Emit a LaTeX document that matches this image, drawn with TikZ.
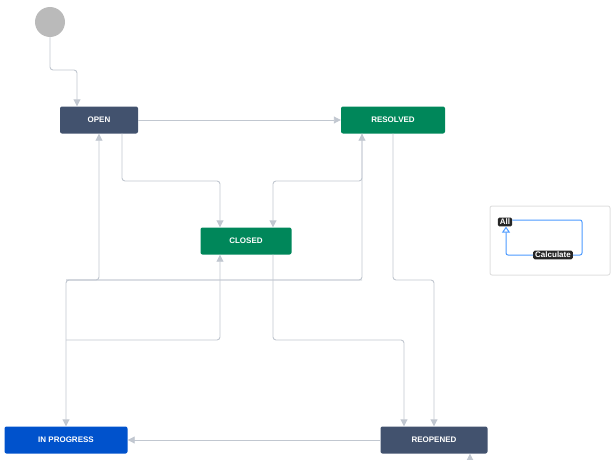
\documentclass[tikz,border=0pt]{standalone}
\usepackage{fontspec}
\setmainfont{Liberation Sans}
\usetikzlibrary{arrows.meta}
\definecolor{slate}{HTML}{42526E}
\definecolor{jgreen}{HTML}{00875A}
\definecolor{jblue}{HTML}{0052CC}
\definecolor{edge}{HTML}{C1C7D0}
\definecolor{lblue}{HTML}{4C9AFF}
\tikzset{
	state/.style={rounded corners=2pt, text=white, font=\fontsize{8}{9}\selectfont\bfseries, inner sep=0pt},
	flow/.style={draw=edge, line width=.9pt, rounded corners=3pt, -{Triangle[length=7pt,width=7pt]}},
	tag/.style={fill=black!85, text=white, rounded corners=1.5pt, font=\fontsize{8}{9}\selectfont\bfseries, inner xsep=2pt, inner ysep=1.5pt},
}
\begin{document}
\begin{tikzpicture}[x=1pt,y=-1pt]
	\useasboundingbox (0,0) rectangle (616,460);
	\fill [black!27] (50,22) circle (15) coordinate (start);
	\node [state, fill=slate, minimum width=78pt, minimum height=27pt] (open) at (99,120) {OPEN};
	\node [state, fill=jgreen, minimum width=104pt, minimum height=27pt] (resolved) at (393,120) {RESOLVED};
	\node [state, fill=jgreen, minimum width=91pt, minimum height=27pt] (closed) at (246,241) {CLOSED};
	\node [state, fill=jblue, minimum width=123pt, minimum height=27pt] (inprogress) at (66,440) {IN PROGRESS};
	\node [state, fill=slate, minimum width=107pt, minimum height=27pt] (reopened) at (434,440) {REOPENED};
	% transitions
	\draw [flow] (50,37) -- (50,70) -- (77,70) -- (open.north -| 77,0);
	\draw [flow] (open) -- (resolved);
	\draw [flow] (open.south -| 122,0) -- (122,181) -- (220,181) -- (closed.north -| 220,0);
	\draw [flow] (resolved.south -| 362,0) -- (362,181) -- (273,181) -- (closed.north -| 273,0);
	\draw [flow] (362,280) -- (66,280) -- (inprogress.north -| 66,0);
	\draw [flow] (66,280) -- (99,280) -- (open.south -| 99,0);
	\draw [flow] (66,280) -- (362,280) -- (resolved.south -| 362,0);
	\draw [flow] (66,340) -- (220,340) -- (closed.south -| 220,0);
	\draw [flow] (closed.south -| 273,0) -- (273,340) -- (404,340) -- (reopened.north -| 404,0);
	\draw [flow] (resolved.south -| 393,0) -- (393,280) -- (434,280) -- (reopened.north -| 434,0);
	\draw [flow, <-, {Triangle[length=7pt,width=7pt]}-] (reopened.south -| 470,0) ;
	\draw [flow] (reopened) -- (inprogress);
	% legend
	\draw [black!12, line width=1pt, rounded corners=2pt] (490,206) rectangle (610,275);
	\node [tag] (all) at (505,222) {All};
	\node [tag] (calc) at (553,255) {Calculate};
	\draw [lblue, line width=1pt, rounded corners=2pt] (calc.east) -- (582,255) -- (582,220) -- (all.east |- 0,220);
	\draw [lblue, line width=1pt, rounded corners=2pt, -{Triangle[open,length=6pt,width=8pt]}] (calc.west) -- (506,255) -- (all.south -| 506,0);
\end{tikzpicture}
\end{document}
